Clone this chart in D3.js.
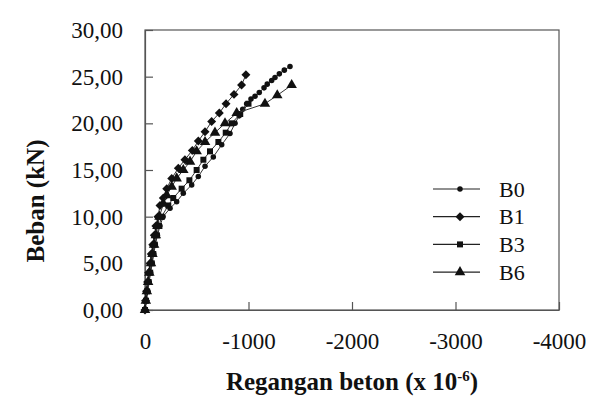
<!DOCTYPE html>
<html>
<head>
<meta charset="utf-8">
<script src="https://cdn.jsdelivr.net/npm/d3@7"></script>
<style>
  body { margin: 0; background: #fff; }
  text { font-family: "Liberation Serif", "Times New Roman", serif; }
</style>
</head>
<body>
<div id="chart"></div>
<script>
// strain (x 10^-6) and load (kN)
var b0 = [[0,0],[-15,1],[-28,2],[-40,3],[-55,4],[-70,5],[-85,6],[-100,7],[-120,8],[-145,9],[-175,10],
  [-242,10.9],[-306,11.6],[-370,12.5],[-451,13.4],[-515,14.3],[-580,15.4],[-660,16.4],[-741,17.7],
  [-821,18.9],[-870,20.0],[-910,20.8],[-944,21.5],[-982,22.1],[-1024,22.6],[-1063,22.9],[-1104,23.3],
  [-1150,23.8],[-1181,24.2],[-1224,24.6],[-1256,24.9],[-1298,25.3],[-1346,25.7],[-1401,26.1]];
var b1 = [[0,0],[-5,1],[-15,2],[-25,3],[-35,4],[-50,5],[-60,6],[-75,7],[-90,8],[-105,9],[-125,10],
  [-145,11.2],[-177,12.0],[-210,13.0],[-258,14.1],[-322,15.2],[-386,16.1],[-457,17.1],[-515,18.1],
  [-580,19.1],[-644,20.2],[-718,21.1],[-783,22.1],[-860,23.1],[-933,24.1],[-975,25.2]];
var b3 = [[0,0],[-10,1],[-20,2],[-35,3],[-50,4],[-65,5],[-80,6],[-95,7],[-115,8],[-135,9],[-160,10],
  [-225,11.2],[-273,12.0],[-354,13.0],[-429,13.9],[-499,15.0],[-564,16.1],[-628,17.0],[-709,18.0],
  [-780,19.0],[-837,20.0],[-920,21.0],[-1000,22.1]];
var b6 = [[0,0],[-8,1],[-18,2],[-30,3],[-42,4],[-58,5],[-72,6],[-88,7],[-105,8],[-120,9],[-140,10],
  [-177,11.4],[-210,12.3],[-258,13.2],[-306,14.1],[-370,15.0],[-435,15.9],[-499,17.0],[-580,18.0],
  [-676,19.0],[-773,20.0],[-886,21.1],[-1159,22.1],[-1278,23.0],[-1417,24.1]];

var seriesNames = ["B0", "B1", "B3", "B6"];
var seriesData = [b0, b1, b3, b6];
var xTicks = [0, -1000, -2000, -3000, -4000];
var yTicks = [0, 5, 10, 15, 20, 25, 30];

var width = 610, height = 415;
var margin = {top: 30, right: 51, bottom: 105, left: 145};

var svg = d3.select("#chart")
  .append("svg")
    .attr("width", width)
    .attr("height", height);

var x = d3.scaleLinear()
  .domain([0, -4000])
  .range([margin.left, width - margin.right]);
var y = d3.scaleLinear()
  .domain([0, 30])
  .range([height - margin.bottom, margin.top]);

// plot frame
svg.append("rect")
  .attr("x", x(0))
  .attr("y", y(30))
  .attr("width", x(-4000) - x(0))
  .attr("height", y(0) - y(30))
  .attr("fill", "none")
  .attr("stroke", "#555")
  .attr("stroke-width", 1.2);

// axes, ticks point inward
var xAxis = svg.append("g")
  .attr("transform", "translate(0," + y(0) + ")")
  .call(d3.axisBottom(x).tickValues(xTicks).tickSizeInner(-8).tickSizeOuter(0)
    .tickFormat(function (d) { return String(d); }));
var yAxis = svg.append("g")
  .attr("transform", "translate(" + x(0) + ",0)")
  .call(d3.axisLeft(y).tickValues(yTicks).tickSizeInner(-8).tickSizeOuter(0).tickPadding(22)
    .tickFormat(function (d) { return d3.format(".2f")(d).replace(".", ","); }));

[xAxis, yAxis].forEach(function (a) {
  a.select(".domain").attr("stroke", "#555").attr("stroke-width", 1.2);
  a.selectAll(".tick line").attr("stroke", "#555").attr("stroke-width", 1.2);
  a.selectAll(".tick text")
    .style("font-family", "'Liberation Serif', serif")
    .style("font-size", "23px")
    .attr("fill", "#111");
});
xAxis.selectAll(".tick text").attr("y", 39).attr("dy", 0);

// axis titles
svg.append("text")
  .attr("x", 352)
  .attr("y", 390)
  .attr("text-anchor", "middle")
  .style("font-size", "25px")
  .style("font-weight", "bold")
  .attr("fill", "#111")
  .html('Regangan beton (x 10<tspan dy="-9" font-size="15px">-6</tspan><tspan dy="9">)</tspan>');

svg.append("text")
  .attr("transform", "translate(44,201) rotate(-90)")
  .attr("text-anchor", "middle")
  .style("font-size", "25px")
  .style("font-weight", "bold")
  .attr("fill", "#111")
  .text("Beban (kN)");

// marker shapes; diamond is a square turned 45 degrees
var shapes = [
  d3.symbol().type(d3.symbolCircle).size(24),
  d3.symbol().type(d3.symbolSquare).size(40),
  d3.symbol().type(d3.symbolSquare).size(36),
  d3.symbol().type(d3.symbolTriangle).size(48)
];
var turn = [0, 45, 0, 0];

var line = d3.line()
  .x(function (d) { return x(d[0]); })
  .y(function (d) { return y(d[1]); });

seriesData.forEach(function (data, i) {
  svg.append("path")
    .datum(data)
    .attr("d", line)
    .attr("fill", "none")
    .attr("stroke", "#333")
    .attr("stroke-width", 1);

  svg.append("g")
    .selectAll("path")
    .data(data)
    .enter()
      .append("path")
      .attr("d", shapes[i])
      .attr("transform", function (d) {
        return "translate(" + x(d[0]) + "," + y(d[1]) + ") rotate(" + turn[i] + ")";
      })
      .attr("fill", "#111");
});

// legend
var legend = svg.append("g");
seriesNames.forEach(function (name, i) {
  var ly = 189 + i * 27.7;
  legend.append("line")
    .attr("x1", 433).attr("x2", 480)
    .attr("y1", ly).attr("y2", ly)
    .attr("stroke", "#222")
    .attr("stroke-width", 1.2);
  legend.append("path")
    .attr("d", shapes[i])
    .attr("transform", "translate(460," + ly + ") rotate(" + turn[i] + ")")
    .attr("fill", "#111");
  legend.append("text")
    .attr("x", 499)
    .attr("y", ly)
    .attr("dy", "0.35em")
    .style("font-size", "22px")
    .attr("fill", "#111")
    .text(name);
});
</script>
</body>
</html>
